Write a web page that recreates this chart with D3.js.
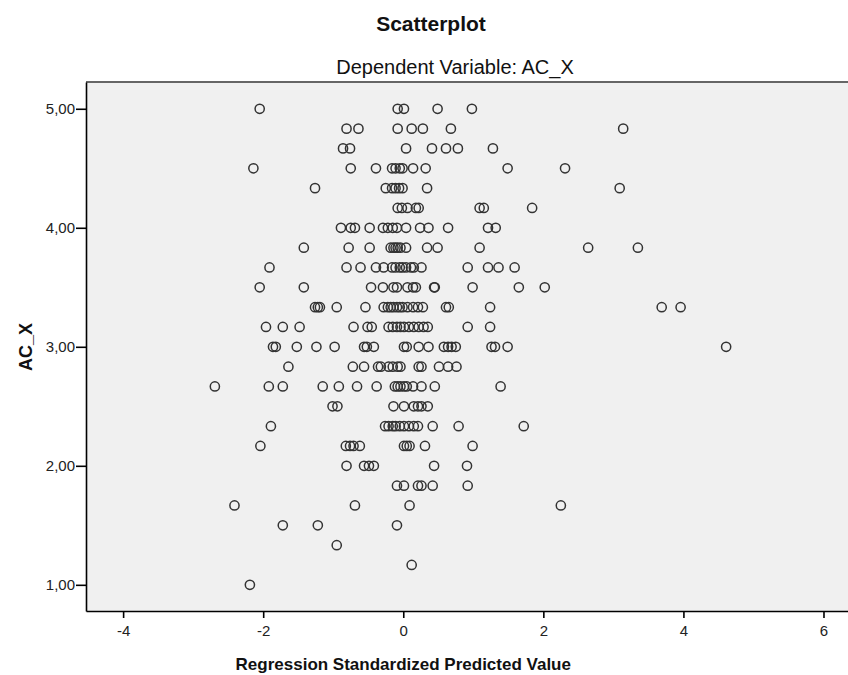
<!DOCTYPE html>
<html lang="en">
<head>
    <meta charset="UTF-8">
    <title>Scatterplot</title>
    <script src="https://d3js.org/d3.v7.min.js"></script>
    <style>
        body { margin: 0; background: #fff; }
        svg { font-family: "Liberation Sans", Arial, sans-serif; }
        .axis path, .axis line { stroke: #000; stroke-width: 1.6; }
        .axis text { fill: #222; font-size: 15px; }
    </style>
</head>
<body>
    <svg id="chart" width="848" height="675"></svg>

    <script>
        // AC_X levels (steps of 1/6) and the standardized predicted values seen on each level
        const acX = [5.000, 4.833, 4.667, 4.500, 4.333, 4.167, 4.000, 3.833, 3.667, 3.500, 3.333, 3.167, 3.000,
                     2.833, 2.667, 2.500, 2.333, 2.167, 2.000, 1.833, 1.667, 1.500, 1.333, 1.167, 1.000];

        const predicted = [
            [-2.05, -0.08, 0.01, 0.49, 0.98],
            [-0.81, -0.64, -0.08, 0.12, 0.28, 0.68, 3.14],
            [-0.86, -0.76, 0.04, 0.41, 0.61, 0.78, 1.28],
            [-2.14, -0.75, -0.39, -0.16, -0.11, -0.05, -0.01, 0.14, 0.32, 1.49, 2.31],
            [-1.26, -0.25, -0.16, -0.11, -0.06, -0.01, 0.34, 3.09],
            [-0.08, -0.02, 0.06, 0.18, 0.22, 1.09, 1.15, 1.84],
            [-0.89, -0.75, -0.69, -0.48, -0.29, -0.22, -0.15, -0.09, 0.04, 0.24, 0.36, 0.64, 1.21, 1.32],
            [-1.42, -0.78, -0.48, -0.18, -0.14, -0.11, -0.08, -0.04, 0.04, 0.34, 0.49, 1.09, 2.64, 3.35],
            [-1.91, -0.81, -0.61, -0.39, -0.28, -0.16, -0.11, -0.05, -0.01, 0.04, 0.11, 0.15, 0.26, 0.92, 1.21, 1.36, 1.59],
            [-2.05, -1.42, -0.46, -0.29, -0.14, -0.09, 0.06, 0.14, 0.18, 0.44, 0.45, 0.99, 1.65, 2.02],
            [-1.26, -1.22, -1.19, -0.95, -0.54, -0.28, -0.22, -0.18, -0.14, -0.09, -0.05, -0.01, 0.06, 0.14, 0.21, 0.28, 0.61, 0.65, 1.24, 3.69, 3.96],
            [-1.96, -1.72, -1.48, -0.71, -0.51, -0.45, -0.21, -0.15, -0.09, -0.04, 0.01, 0.08, 0.15, 0.22, 0.29, 0.35, 0.92, 1.24],
            [-1.86, -1.82, -1.52, -1.24, -0.98, -0.56, -0.52, -0.42, 0.01, 0.05, 0.22, 0.36, 0.58, 0.64, 0.69, 0.75, 1.26, 1.31, 1.49, 4.61],
            [-1.64, -0.72, -0.56, -0.36, -0.32, -0.21, -0.15, -0.08, -0.04, 0.22, 0.26, 0.51, 0.64, 0.76],
            [-2.69, -1.92, -1.72, -1.15, -0.92, -0.66, -0.38, -0.12, -0.08, -0.04, 0.01, 0.05, 0.14, 0.26, 0.45, 1.39],
            [-1.01, -0.94, -0.14, 0.01, 0.15, 0.21, 0.26, 0.35],
            [-1.89, -0.26, -0.21, -0.15, -0.11, -0.05, 0.01, 0.08, 0.15, 0.21, 0.42, 0.79, 1.72],
            [-2.04, -0.82, -0.76, -0.71, -0.62, 0.01, 0.05, 0.09, 0.31, 0.99],
            [-0.81, -0.56, -0.49, -0.42, 0.44, 0.91],
            [-0.09, 0.01, 0.21, 0.26, 0.42, 0.92],
            [-2.41, -0.69, 0.09, 2.25],
            [-1.72, -1.22, -0.09],
            [-0.95],
            [0.12],
            [-2.19]
        ];

        const xTicks = [-4, -2, 0, 2, 4, 6];
        const yTicks = [1, 2, 3, 4, 5];

        // flatten into points
        const points = [];
        acX.forEach((level, i) => {
            predicted[i].forEach(v => points.push({ x: v, y: level }));
        });

        const width = 848;
        const height = 675;
        const plot = { left: 86, right: 848, top: 82, bottom: 611 };

        const svg = d3.select('#chart')
            .attr('width', width)
            .attr('height', height);

        const xScale = d3.scaleLinear()
            .domain([-4.53, 6.35])
            .range([plot.left, plot.right]);

        const yScale = d3.scaleLinear()
            .domain([0.78, 5.225])
            .range([plot.bottom, plot.top]);

        // plot background
        svg.append('rect')
            .attr('x', plot.left)
            .attr('y', plot.top)
            .attr('width', plot.right - plot.left)
            .attr('height', plot.bottom - plot.top)
            .attr('fill', '#f0f0f0');

        // top frame line
        svg.append('line')
            .attr('x1', plot.left).attr('x2', plot.right)
            .attr('y1', plot.top).attr('y2', plot.top)
            .attr('stroke', '#666')
            .attr('stroke-width', 2);

        // points
        svg.append('g')
            .selectAll('circle')
            .data(points)
            .join('circle')
            .attr('cx', d => xScale(d.x))
            .attr('cy', d => yScale(d.y))
            .attr('r', 4.6)
            .attr('fill', 'none')
            .attr('stroke', '#333')
            .attr('stroke-width', 1.5);

        // axes
        svg.append('g')
            .attr('class', 'axis')
            .attr('transform', `translate(${plot.left},0)`)
            .call(d3.axisLeft(yScale)
                .tickValues(yTicks)
                .tickSize(10)
                .tickSizeOuter(0)
                .tickPadding(1)
                .tickFormat(d => d3.format('.2f')(d).replace('.', ',')));

        svg.append('g')
            .attr('class', 'axis')
            .attr('transform', `translate(0,${plot.bottom})`)
            .call(d3.axisBottom(xScale)
                .tickValues(xTicks)
                .tickSize(7)
                .tickSizeOuter(0)
                .tickPadding(7)
                .tickFormat(d => String(d)));

        // titles
        svg.append('text')
            .attr('x', 431)
            .attr('y', 31)
            .attr('text-anchor', 'middle')
            .attr('font-size', 21)
            .attr('font-weight', 'bold')
            .attr('fill', '#111')
            .text('Scatterplot');

        svg.append('text')
            .attr('x', 455)
            .attr('y', 74)
            .attr('text-anchor', 'middle')
            .attr('font-size', 20)
            .attr('fill', '#111')
            .text('Dependent Variable: AC_X');

        // axis labels
        svg.append('text')
            .attr('x', xScale(0))
            .attr('y', 670)
            .attr('text-anchor', 'middle')
            .attr('font-size', 17)
            .attr('font-weight', 'bold')
            .attr('fill', '#111')
            .text('Regression Standardized Predicted Value');

        svg.append('text')
            .attr('transform', 'rotate(-90)')
            .attr('x', -347)
            .attr('y', 32)
            .attr('text-anchor', 'middle')
            .attr('font-size', 18)
            .attr('font-weight', 'bold')
            .attr('fill', '#111')
            .text('AC_X');
    </script>
</body>
</html>
